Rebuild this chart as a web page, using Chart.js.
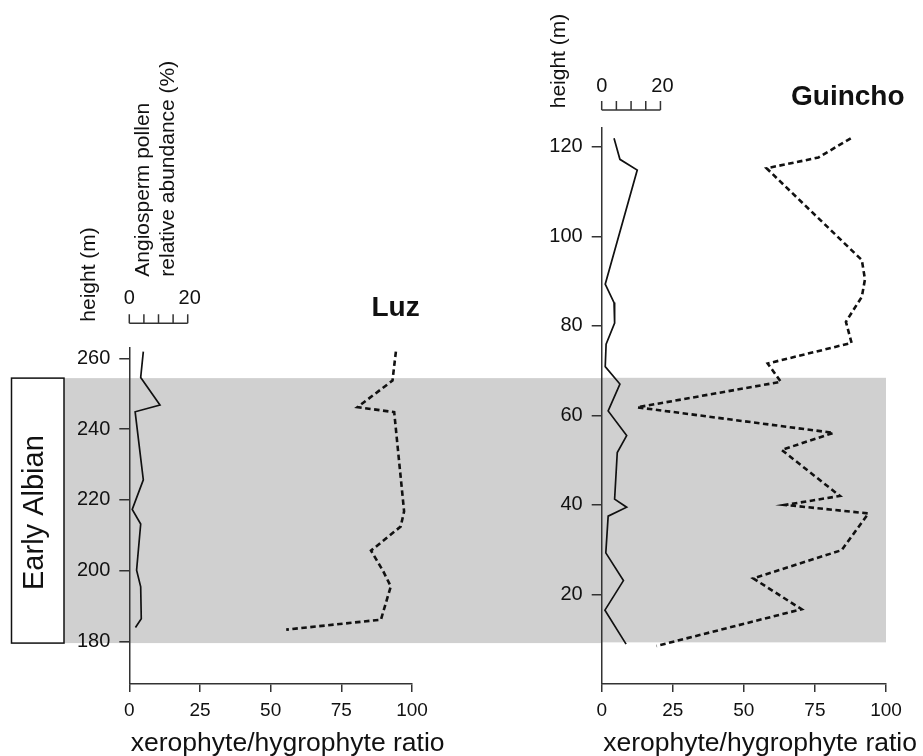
<!DOCTYPE html>
<html><head><meta charset="utf-8">
<script src="https://cdn.jsdelivr.net/npm/chart.js@4/dist/chart.umd.min.js"></script>
<style>
html,body{margin:0;padding:0;background:#fff;}
#wrap{position:relative;width:923px;height:756px;overflow:hidden;background:#fff;}
canvas{position:absolute;left:0;top:0;}
</style></head><body>
<div id="wrap"><canvas id="cLuz" width="923" height="756"></canvas><canvas id="cGuin" width="923" height="756"></canvas></div>
<script>
// ---------- data ----------
const xTicks = [0, 25, 50, 75, 100];
const xTitle = 'xerophyte/hygrophyte ratio';
const angioBarTicks = [0, 5, 10, 15, 20];
const angioBarLabels = ['0', '20'];
const luzYTicks = [180, 200, 220, 240, 260];
const guinYTicks = [20, 40, 60, 80, 100, 120];
const luzBand = [179.6, 254.4];      // Early Albian interval, Luz heights (m)
const guinBand = [9.3, 68.4];        // Early Albian interval, Guincho heights (m)

// Luz: angiosperm pollen relative abundance (%)
const luzAngioHeight = [261.9, 254.6, 246.8, 244.9, 225.7, 217.3, 213.2, 200.2, 195.5, 186.5, 184.0];
const luzAngioPct    = [4.8, 3.9, 10.5, 2.0, 4.8, 1.0, 3.9, 2.5, 3.9, 4.1, 2.1];
// Luz: xerophyte/hygrophyte ratio
const luzRatioHeight = [261.9, 253.7, 246.2, 244.8, 216.8, 212.5, 205.7, 199.9, 195.6, 186.2, 183.4];
const luzRatio       = [94.3, 93.1, 80.7, 93.7, 97.2, 96.0, 85.5, 89.8, 92.5, 89.0, 55.5];

// Guincho: angiosperm pollen relative abundance (%)
const guinAngioHeight = [121.9, 117.2, 114.8, 89.3, 85.2, 80.6, 75.9, 70.9, 67.0, 61.0, 55.5, 51.7, 41.3, 39.5, 37.5, 29.3, 23.1, 16.5, 8.9];
const guinAngioPct    = [4.2, 6.2, 12.1, 1.2, 4.2, 4.4, 1.5, 1.2, 6.2, 2.2, 8.5, 5.3, 4.4, 8.5, 2.2, 1.4, 7.4, 1.1, 8.3];
// Guincho: xerophyte/hygrophyte ratio
const guinRatioHeight = [121.9, 117.6, 115.2, 94.7, 90.4, 86.5, 80.9, 76.2, 71.6, 67.5, 61.8, 56.1, 52.3, 42.0, 40.0, 38.1, 29.9, 23.6, 16.7, 8.5];
const guinRatio       = [87.6, 76.2, 58.0, 91.5, 92.6, 91.5, 85.9, 87.9, 58.4, 63.0, 12.5, 81.5, 63.3, 83.8, 64.5, 93.8, 84.4, 53.3, 70.3, 19.3];

// ---------- styles ----------
const FONT = "'Liberation Sans', Arial, Helvetica, sans-serif";
const INK = '#111';
const AXIS = '#333';
const BAND = '#d0d0d0';
Chart.defaults.font.family = FONT;
Chart.defaults.color = INK;

const pairs = (xs, ys) => xs.map((v, i) => ({x: v, y: ys[i]}));

function xScaleOpts() {
  return {
    type: 'linear', min: 0, max: 100, position: 'bottom',
    afterBuildTicks: s => { s.ticks = xTicks.map(v => ({value: v})); },
    afterFit: s => { s.height = 72; },
    grid: {display: true, drawOnChartArea: false, drawTicks: true, tickLength: 8, color: AXIS, lineWidth: 1.5},
    border: {display: true, color: AXIS, width: 1.5},
    ticks: {color: INK, font: {size: 19}, padding: 7, maxRotation: 0, autoSkip: false},
    title: {display: false}
  };
}
function yScaleOpts(min, max, ticks, width) {
  return {
    type: 'linear', min: min, max: max, position: 'left',
    afterBuildTicks: s => { s.ticks = ticks.map(v => ({value: v})); },
    afterFit: s => { s.width = width; },
    grid: {display: true, drawOnChartArea: false, drawTicks: true, tickLength: 10, color: AXIS, lineWidth: 1.5},
    border: {display: true, color: AXIS, width: 1.5},
    ticks: {color: INK, font: {size: 20}, padding: 9, autoSkip: false}
  };
}
const angioScale = {type: 'linear', min: 0, max: 96.8, display: false, position: 'top'};

function datasets(aPct, aH, rVal, rH) {
  return [
    {data: pairs(aPct, aH), xAxisID: 'xa', yAxisID: 'y', showLine: true, borderColor: INK,
     borderWidth: 1.7, pointRadius: 0, fill: false, tension: 0},
    {data: pairs(rVal, rH), xAxisID: 'x', yAxisID: 'y', showLine: true, borderColor: INK,
     borderWidth: 2.6, borderDash: [5.5, 3.5], pointRadius: 0, fill: false, tension: 0}
  ];
}

function drawScaleBar(chart, barY, labelBase) {
  const {ctx} = chart;
  const xa = chart.scales.xa;
  const p0 = xa.getPixelForValue(angioBarTicks[0]);
  const p1 = xa.getPixelForValue(angioBarTicks[angioBarTicks.length - 1]);
  ctx.save();
  ctx.strokeStyle = AXIS; ctx.lineWidth = 1.5;
  ctx.beginPath();
  ctx.moveTo(p0, barY); ctx.lineTo(p1, barY);
  angioBarTicks.forEach(v => { const p = xa.getPixelForValue(v); ctx.moveTo(p, barY); ctx.lineTo(p, barY - 9); });
  ctx.stroke();
  ctx.fillStyle = INK; ctx.font = '20px ' + FONT; ctx.textAlign = 'center'; ctx.textBaseline = 'alphabetic';
  ctx.fillText(angioBarLabels[0], p0, labelBase);
  ctx.fillText(angioBarLabels[1], p1 + 2, labelBase);
  ctx.restore();
}
function drawXTitle(chart) {
  const {ctx} = chart; const x = chart.scales.x;
  ctx.save();
  ctx.font = '26.5px ' + FONT; ctx.fillStyle = INK; ctx.textAlign = 'left'; ctx.textBaseline = 'alphabetic';
  ctx.fillText(xTitle, x.left + 1.5, 751);
  ctx.restore();
}
function rotText(ctx, text, x, y, font, align) {
  ctx.save();
  ctx.translate(x, y); ctx.rotate(-Math.PI / 2);
  ctx.font = font; ctx.fillStyle = INK; ctx.textAlign = align || 'left'; ctx.textBaseline = 'alphabetic';
  ctx.fillText(text, 0, 0);
  ctx.restore();
}

// ---------- Luz ----------
const luzPlugin = {
  id: 'luzDecor',
  beforeDraw(chart) {
    const {ctx} = chart; const y = chart.scales.y;
    const top = y.getPixelForValue(luzBand[1]), bot = y.getPixelForValue(luzBand[0]);
    ctx.save();
    ctx.fillStyle = BAND; ctx.fillRect(64, top, 602 - 64, bot - top);
    // Early Albian box
    ctx.fillStyle = '#fff'; ctx.fillRect(11.5, top, 52.5, bot - top);
    ctx.strokeStyle = INK; ctx.lineWidth = 1.5; ctx.strokeRect(11.5, top, 52.5, bot - top);
    ctx.restore();
    rotText(ctx, 'Early Albian', 43, (top + bot) / 2 + 2, '29px ' + FONT, 'center');
  },
  afterDraw(chart) {
    const {ctx} = chart;
    drawScaleBar(chart, 323.3, 304);
    drawXTitle(chart);
    rotText(ctx, 'height (m)', 95, 321.7, '21px ' + FONT);
    rotText(ctx, 'Angiosperm pollen', 148.5, 276.7, '21px ' + FONT);
    rotText(ctx, 'relative abundance (%)', 174, 276.7, '21px ' + FONT);
    ctx.save();
    ctx.font = 'bold 28px ' + FONT; ctx.fillStyle = INK; ctx.textAlign = 'left'; ctx.textBaseline = 'alphabetic';
    ctx.fillText('Luz', 371.5, 316);
    ctx.restore();
  }
};
new Chart(document.getElementById('cLuz'), {
  type: 'scatter',
  data: {datasets: datasets(luzAngioPct, luzAngioHeight, luzRatio, luzRatioHeight)},
  options: {
    responsive: false, animation: false, devicePixelRatio: 1,
    layout: {padding: {left: 0, top: 348, right: 511, bottom: 0}},
    plugins: {legend: {display: false}, tooltip: {enabled: false}},
    scales: {x: xScaleOpts(), xa: angioScale, y: yScaleOpts(168.05, 262.9, luzYTicks, 129.3)}
  },
  plugins: [luzPlugin]
});

// ---------- Guincho ----------
const guinPlugin = {
  id: 'guinDecor',
  beforeDraw(chart) {
    const {ctx} = chart; const y = chart.scales.y, x = chart.scales.x;
    const top = y.getPixelForValue(guinBand[1]), bot = y.getPixelForValue(guinBand[0]);
    ctx.save();
    ctx.fillStyle = BAND; ctx.fillRect(601, top, x.getPixelForValue(100) - 601, bot - top);
    ctx.restore();
  },
  afterDraw(chart) {
    const {ctx} = chart;
    drawScaleBar(chart, 110, 92.3);
    drawXTitle(chart);
    rotText(ctx, 'height (m)', 565, 108.3, '21px ' + FONT);
    ctx.save();
    ctx.font = 'bold 28px ' + FONT; ctx.fillStyle = INK; ctx.textAlign = 'left'; ctx.textBaseline = 'alphabetic';
    ctx.fillText('Guincho', 791, 105);
    ctx.restore();
  }
};
new Chart(document.getElementById('cGuin'), {
  type: 'scatter',
  data: {datasets: datasets(guinAngioPct, guinAngioHeight, guinRatio, guinRatioHeight)},
  options: {
    responsive: false, animation: false, devicePixelRatio: 1,
    layout: {padding: {left: 541.7, top: 128, right: 37, bottom: 0}},
    plugins: {legend: {display: false}, tooltip: {enabled: false}},
    scales: {x: xScaleOpts(), xa: angioScale, y: yScaleOpts(0, 124.2, guinYTicks, 60)}
  },
  plugins: [guinPlugin]
});
</script>
</body></html>
